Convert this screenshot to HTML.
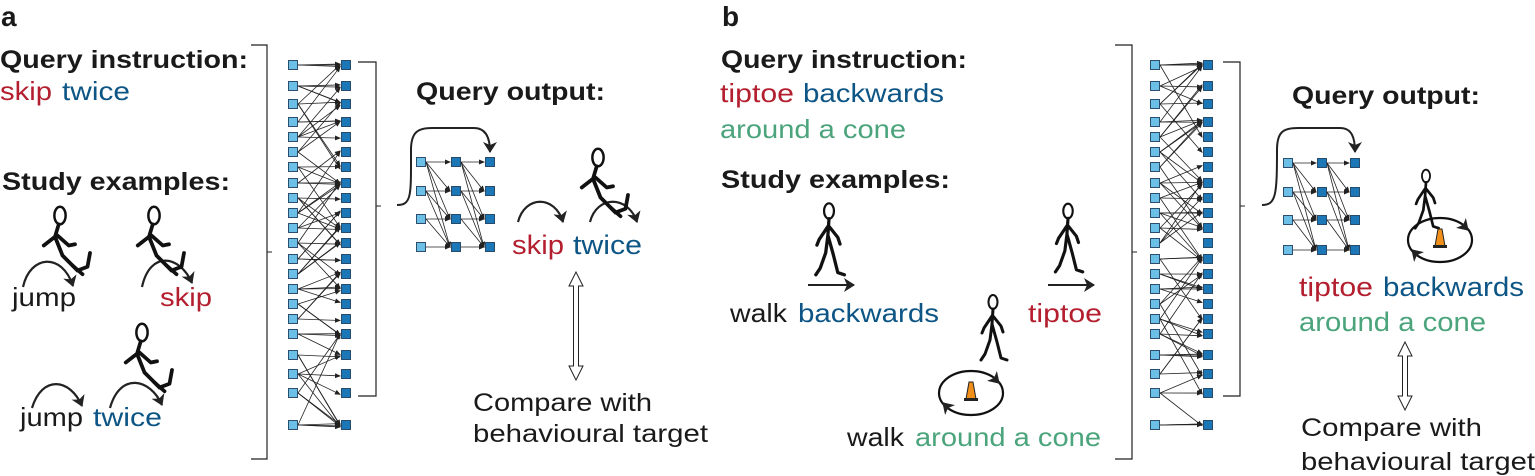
<!DOCTYPE html>
<html><head><meta charset="utf-8"><style>
html,body{margin:0;padding:0;background:#fff;}
svg{display:block;font-family:"Liberation Sans",Arial,sans-serif;}
.b{font-weight:bold;fill:#1a1a1a;}
.t{fill:#1a1a1a;}
.r{fill:#b31f2f;} .u{fill:#0d5585;} .g{fill:#4ba47c;}
</style></head><body>
<svg id="s" width="1535" height="476" viewBox="0 0 1535 476" xmlns="http://www.w3.org/2000/svg">
<defs>
<marker id="ah" markerWidth="6" markerHeight="6" refX="5" refY="3" orient="auto" markerUnits="userSpaceOnUse"><path d="M0,0.5 L6,3 L0,5.5 z" fill="#222"/></marker>
<marker id="bh" markerWidth="14" markerHeight="14" refX="10" refY="7" orient="auto" markerUnits="userSpaceOnUse"><path d="M0,0 L11,7 L0,14 L3,7 z" fill="#222"/></marker>
<g id="jumper" fill="none" stroke="#111" stroke-width="3" stroke-linecap="round" stroke-linejoin="round">
<ellipse cx="8" cy="-2" rx="4.5" ry="7" stroke-width="2"/>
<path d="M7,5 L4,15 L10,30 L18,38 M4,15 L-5,22 M6,14 L15,22 L20,21 M10,30 L22,42"/>
<path d="M18,38 L26,45 M22,42 L30,39 L32,28" />
</g>
<g id="walker" fill="none" stroke="#111" stroke-width="3" stroke-linecap="round" stroke-linejoin="round">
<ellipse cx="0" cy="0" rx="4.5" ry="7" stroke-width="2"/>
<path d="M0,7 L-1,22 L-3,38 L-8,52 L-12,58 M-1,22 L4,40 L8,56 L14,58 M-1,14 L-9,26 L-11,31 M0,14 L8,24 L10,30"/>
</g>
</defs>
</svg>
<script>
(function(){
var s=document.getElementById('s'),NS='http://www.w3.org/2000/svg';
function el(t,a,txt){var e=document.createElementNS(NS,t);for(var k in a)e.setAttribute(k,a[k]);if(txt!=null)e.textContent=txt;s.appendChild(e);return e;}
function tx(x,y,str,cls,size,len){var a={x:x,y:y,'class':cls,'font-size':size};if(len){a.textLength=len;a.lengthAdjust='spacingAndGlyphs';}return el('text',a,str);}
function ln(x1,y1,x2,y2,w,m){var a={x1:x1,y1:y1,x2:x2,y2:y2,stroke:'#222','stroke-width':w||1};if(m)a['marker-end']='url(#'+m+')';return el('line',a);}
function path(d,w,m){var a={d:d,fill:'none',stroke:'#222','stroke-width':w||1.2};if(m)a['marker-end']='url(#'+m+')';return el('path',a);}
function sq(x,y,light){el('rect',{x:x-4.5,y:y-4.5,width:9,height:9,fill:light?'#6cc0e8':'#1b77b6',stroke:'#1d3f5e','stroke-width':0.9});}
var rows=[65,86,104,122,137,152,167,183,198,213,228,243,259,274,289,304,319,334,355,374,393,425];
var seed=7;function rnd(){seed=(seed*9301+49297)%233280;return seed/233280;}
function net(xl,xr){
 for(var i=0;i<rows.length;i++){
  var n=3+Math.floor(rnd()*2);
  for(var k=0;k<n;k++){
   var j=i+Math.round((rnd()*2-1)*4);
   if(j<0)j=0;if(j>=rows.length)j=rows.length-1;
   if(k==0&&rnd()<0.3)j=i;
   ln(xl+5,rows[i],xr-6,rows[j]+(rnd()*4-2),0.8,'ah');
  }
 }
 for(var i=0;i<rows.length;i++){sq(xl,rows[i],true);sq(xr,rows[i],false);}
}
function bigBr(x0,x1){
 path('M'+x0+',45 H'+x1+' V459 H'+x0,1.2);
 ln(x1,252,x1+5,252,1);
}
function smallBr(x0,x1){
 path('M'+x0+',62 H'+x1+' V396 H'+x0,1.2);
 ln(x1,206,x1+5,206,1);
}
function small(c1,c2,c3,r){
 for(var a=0;a<4;a++){
  for(var b=0;b<4;b++){ if(b<a)continue; ln(c1+5,r[a],c2-6,r[b],0.8,'ah');}
  for(var b=0;b<4;b++){ if(b<a)continue; ln(c2+5,r[a],c3-6,r[b],0.8,'ah');}
 }
 for(var a=0;a<4;a++){sq(c1,r[a],true);sq(c2,r[a],false);sq(c3,r[a],false);}
}
function dbl(x,y1,y2){
 el('path',{d:'M'+x+','+y1+' l-7,14 h4.5 V'+(y2-14)+' h-4.5 l7,14 l7,-14 h-4.5 V'+(y1+14)+' h4.5 z',fill:'#fff',stroke:'#222','stroke-width':1});
}
function cone(cx,cy){
 el('ellipse',{cx:cx,cy:cy,rx:32,ry:22,fill:'none',stroke:'#111','stroke-width':2.2});
 path('M'+(cx+22)+','+(cy-16)+' l6,6',2.2,'bh');
 path('M'+(cx-22)+','+(cy+16)+' l-6,-6',2.2,'bh');
 el('path',{d:'M'+(cx-5)+','+(cy+6)+' L'+(cx-2)+','+(cy-11)+' L'+(cx+2)+','+(cy-11)+' L'+(cx+5)+','+(cy+6)+' z',fill:'#f0901a',stroke:'#222','stroke-width':1});
 el('rect',{x:cx-7,y:cy+5,width:14,height:3,fill:'#222'});
}
function use(id,x,y,sc){el('use',{href:'#'+id,transform:'translate('+x+','+y+') scale('+(sc||1)+')'});}

/* ---- Panel a ---- */
tx(1,26,'a','b',28);
tx(0,68,'Query instruction:','b',25,248);
tx(0,100,'skip','r',26,52);tx(62,100,'twice','u',26,68);
tx(2,190,'Study examples:','b',25,228);
tx(12,306,'jump','t',26,64);tx(160,306,'skip','r',26,52);
tx(20,426,'jump','t',26,63);tx(93,426,'twice','u',26,69);
path('M23,287 C30,255 62,252 73,286',2.2,'bh');
path('M142,287 C150,250 180,255 192,283',2.2,'bh');
path('M32,408 C42,375 70,378 82,406',2.2,'bh');
path('M110,408 C120,372 150,378 162,405',2.2,'bh');
use('jumper',50,218,1.25);use('jumper',144,218,1.25);use('jumper',132,335,1.25);
bigBr(251,267);
net(293,346);
smallBr(358,376);
path('M397,205 C412,205 411,195 411,150 C411,132 418,128 432,128 L474,128 C486,128 490,138 490,152',2,'bh');
small(421,456,490,[162,191,219,247]);
tx(416,100,'Query output:','b',25,189);
path('M518,222 C525,195 555,195 563,222',2.2,'bh');
path('M590,222 C597,195 628,195 637,222',2.2,'bh');
use('jumper',588,160,1.25);
tx(512,254,'skip','r',27,52);tx(573,254,'twice','u',27,69);
dbl(576,272,380);
tx(473,411,'Compare with','t',25,179);
tx(473,442,'behavioural target','t',25,235);

/* ---- Panel b ---- */
tx(722,26,'b','b',28);
tx(721,68,'Query instruction:','b',25,246);
tx(720,102,'tiptoe','r',26,74);tx(803,102,'backwards','u',26,141);
tx(720,138,'around a cone','g',26,186);
tx(721,188,'Study examples:','b',25,229);
use('walker',829,211,1.1);
ln(808,285,854,285,2,'bh');
tx(730,322,'walk','t',26,57);tx(798,322,'backwards','u',26,141);
use('walker',1068,211,1.05);
ln(1048,285,1094,285,2,'bh');
tx(1028,322,'tiptoe','r',26,74);
use('walker',993,302,1.0);
cone(971,393);
tx(847,446,'walk','t',26,57);tx(915,446,'around a cone','g',26,186);
bigBr(1115,1132);
net(1155,1208);
smallBr(1223,1240);
path('M1262,205 C1276,205 1277,195 1277,150 C1277,132 1283,128 1298,128 L1340,128 C1352,128 1355,138 1355,152',2,'bh');
small(1288,1322,1355,[163,192,220,250]);
tx(1292,104,'Query output:','b',25,188);
use('walker',1426,176,0.9);
cone(1440,240);
tx(1299,296,'tiptoe','r',27,74);tx(1383,296,'backwards','u',27,141);
tx(1299,331,'around a cone','g',27,187);
dbl(1405,342,410);
tx(1301,436,'Compare with','t',25,181);
tx(1301,470,'behavioural target','t',25,234);
})();
</script>
</body></html>
